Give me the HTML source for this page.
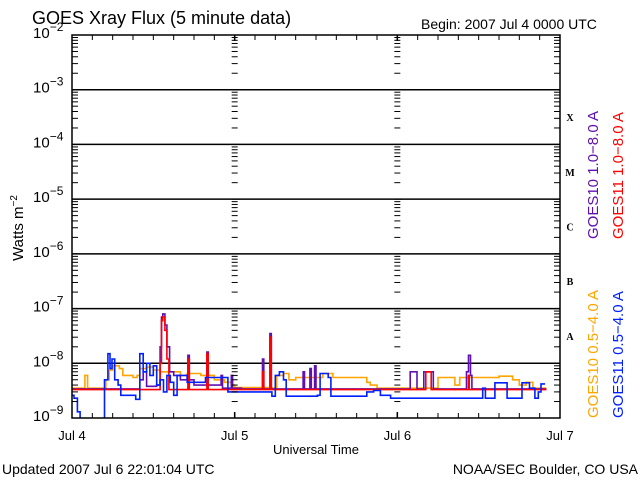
<!DOCTYPE html>
<html><head><meta charset="utf-8"><style>
html,body{margin:0;padding:0;background:#fff;}
svg{display:block;font-family:"Liberation Sans",sans-serif;}
</style></head><body>
<svg id="chart" width="640" height="480" viewBox="0 0 640 480" xmlns="http://www.w3.org/2000/svg">
<rect x="0" y="0" width="640" height="480" fill="#fff"/>
<text x="32" y="24" font-size="18">GOES Xray Flux (5 minute data)</text>
<text x="421" y="29" font-size="14">Begin:  2007 Jul 4 0000 UTC</text>
<text transform="translate(23,228) rotate(-90)" text-anchor="middle" font-size="15">Watts m<tspan dy="-6" font-size="10">−2</tspan></text>
<text x="316" y="454" text-anchor="middle" font-size="13">Universal Time</text>
<text x="2" y="474" font-size="14">Updated 2007 Jul  6 22:01:04 UTC</text>
<text x="638" y="474" text-anchor="end" font-size="14">NOAA/SEC Boulder, CO USA</text>
<g id="grid"></g>
<g id="series"></g>
<g id="axes"></g>
<g id="legend">
<text transform="translate(598,239) rotate(-90)" fill="#6010b0" font-size="15">GOES10 1.0−8.0 A</text>
<text transform="translate(623,239) rotate(-90)" fill="#ff0000" font-size="15">GOES11 1.0−8.0 A</text>
<text transform="translate(598,418) rotate(-90)" fill="#ffa500" font-size="15">GOES10 0.5−4.0 A</text>
<text transform="translate(623,418) rotate(-90)" fill="#0020ff" font-size="15">GOES11 0.5−4.0 A</text>
</g>
</svg>
<script>
const dayLabels = ["Jul 4","Jul 5","Jul 6","Jul 7"];
const decadeExponents = [-9,-8,-7,-6,-5,-4,-3,-2];
const flareClasses = ["A","B","C","M","X"];
const flareClassExps = [-7.5,-6.5,-5.5,-4.5,-3.5];

const blueTimes = [0,0.3,0.8,1.2,4.6,4.8,5.3,5.6,5.9,6.3,6.8,7.2,9.2,9.4,9.8,10,10.5,11,11.5,12,12.5,13,13.5,14,14.5,15,15.5,16.7,17,19.5,19.7,22.6,23,29.5,30,30.6,31.2,31.6,36.2,36.6,37.8,38.2,42.5,43.5,44.5,45.5,47,53,60.3,60.6,61,62.2,62.4,63.9,64.2,66,66.4,67.5,68.3,68.8,69.2,69.8];
const blueFlux = [2.6e-9,2.3e-9,1.3e-9,7e-10,7e-10,5e-9,1.5e-8,8e-9,1.2e-8,5e-9,4e-9,2.6e-9,2.6e-9,2.2e-9,2.2e-9,1.5e-8,7e-9,1e-8,6e-9,9e-9,4e-9,5e-9,3e-9,6e-9,4.5e-9,2.6e-9,6e-9,6e-9,4.5e-9,4.5e-9,5.5e-9,5.5e-9,3e-9,2.5e-9,6e-9,7e-9,5e-9,2.5e-9,2.6e-9,6.5e-9,5.5e-9,2.5e-9,2.5e-9,3e-9,3.2e-9,2.6e-9,2.3e-9,2.3e-9,2.3e-9,3.5e-9,2.3e-9,2.3e-9,4.4e-9,4.4e-9,2.3e-9,2.3e-9,4.4e-9,3.5e-9,2.3e-9,3e-9,4.2e-9,4.2e-9];

const orangeTimes = [0,1.8,1.9,2.2,2.3,4.6,5,5.5,6,7,7.5,9,9.6,10,11,12,13,15,16,17,19,21,22.5,23.5,24,29.5,30.2,31.2,32,33,37,38,38.5,42.5,43.5,44,45,47,48,53.8,54,56,56.5,57.2,62,63,64,65,66,67,68,70];
const orangeFlux = [3.5e-9,3.5e-9,6e-9,6e-9,3.5e-9,3.5e-9,5e-9,7.5e-9,9e-9,8e-9,6e-9,5.5e-9,6e-9,8e-9,8.5e-9,7.5e-9,7e-9,7e-9,6e-9,6.5e-9,6e-9,5e-9,4.5e-9,4e-9,3.6e-9,3.5e-9,6e-9,6.5e-9,5e-9,5.5e-9,6.5e-9,6.5e-9,5.5e-9,5.5e-9,4.5e-9,4e-9,3.5e-9,3.5e-9,3.5e-9,3.5e-9,5.5e-9,5.5e-9,4e-9,5.5e-9,5.5e-9,5.8e-9,5.8e-9,5e-9,4e-9,4.5e-9,3.5e-9,3.5e-9];

const purpleTimes = [0,9.5,10,10.5,11,12.5,12.8,13,13.2,13.4,13.7,14,14.4,15,16,17,17.1,17.3,18,19.8,19.9,20.1,21,22,22.2,23.5,23.7,25,28,28.1,28.3,29.1,29.2,29.4,34,34.1,34.3,35,35.1,35.3,35.8,36,48,49.8,49.9,50.8,50.9,51.8,51.9,53.2,53.3,58,58.2,58.5,58.8,59,70];
const purpleFlux = [3.4e-9,3.4e-9,5e-9,7e-9,3.8e-9,4e-9,4e-9,2e-8,7e-8,8e-8,5e-8,2e-8,7e-9,6e-9,5e-9,6e-9,1.4e-8,5e-9,4e-9,4e-9,1.6e-8,4e-9,4e-9,6e-9,3.5e-9,6e-9,3.5e-9,3.4e-9,3.4e-9,1.2e-8,3.4e-9,3.4e-9,3.5e-8,3.4e-9,3.4e-9,7e-9,3.4e-9,3.4e-9,8e-9,3.4e-9,9e-9,3.4e-9,3.4e-9,3.4e-9,7e-9,7e-9,3.4e-9,3.4e-9,7e-9,7e-9,3.4e-9,3.4e-9,7e-9,1.4e-8,6e-9,3.4e-9,3.4e-9];

const redTimes = [0,12.8,13,13.2,13.4,13.7,14,14.3,17,17.1,17.3,19.8,19.9,20.1,28,28.1,28.3,29.1,29.2,29.4,52,52.2,52.8,53,58.4,58.5,58.6,70];
const redFlux = [3.3e-9,3.3e-9,1e-8,6e-8,7e-8,4e-8,1.2e-8,3.3e-9,3.3e-9,1.2e-8,3.3e-9,3.3e-9,1.5e-8,3.3e-9,3.3e-9,7e-9,3.3e-9,3.3e-9,3e-8,3.3e-9,3.3e-9,7e-9,7e-9,3.3e-9,3.3e-9,6e-9,3.3e-9,3.3e-9];

const X0=72, X1=560, Y0=35, Y1=418;
const xScale = h => X0 + h*(X1-X0)/72;
const yScale = v => { const l = Math.log10(Math.max(v,1e-10)); return Y0 + (-2 - l)*(Y1-Y0)/7; };
const NS="http://www.w3.org/2000/svg";
function mk(tag, attrs, parent){ const e=document.createElementNS(NS,tag); for(const k in attrs) e.setAttribute(k,attrs[k]); parent.appendChild(e); return e; }
const grid=document.getElementById('grid'), axes=document.getElementById('axes'), series=document.getElementById('series');

for(let i=1;i<decadeExponents.length-1;i++){
  const y=yScale(Math.pow(10,decadeExponents[i]));
  const l=mk('line',{x1:X0,x2:X1,y1:y,y2:y,stroke:'#000','stroke-width':1.5},grid);
  
  
}
const tickXs=[[X0,6],[X1,-6],[xScale(24)-3,6],[xScale(48)-3,6]];
for(let d=0; d<decadeExponents.length-1; d++){
  for(let m=1;m<=9;m++){
    const v=m*Math.pow(10,decadeExponents[d]);
    const y=yScale(v);
    tickXs.forEach(([x,w])=>{
      const t=mk('line',{x1:x,x2:x+(m===1?w*1.3:w),y1:y,y2:y,stroke:'#000','stroke-width':1},axes);
      
      
    });
  }
}
[24,48].forEach(h=>{
  const x=xScale(h);
  const l=mk('line',{x1:x,x2:x,y1:Y1-6,y2:Y1,stroke:'#000','stroke-width':1.5},axes);
  
  
  const l2=mk('line',{x1:x,x2:x,y1:Y0,y2:Y0+6,stroke:'#000','stroke-width':1.5},axes);
  
  
});
for(let h=3;h<72;h+=3){
  const x=xScale(h);
  const a=mk('line',{x1:x,x2:x,y1:Y1,y2:Y1-5,stroke:'#000'},axes);
  
  
  const b=mk('line',{x1:x,x2:x,y1:Y0,y2:Y0+5,stroke:'#000'},axes);
  
  
}
const fr=mk('rect',{x:X0,y:Y0,width:X1-X0,height:Y1-Y0,fill:'none',stroke:'#000','stroke-width':1.5},axes);


decadeExponents.forEach(e=>{
  const y=yScale(Math.pow(10,e));
  const t=mk('text',{x:33,y:y+3,'font-size':15},axes);
  
  
  t.textContent='10';
  const s=mk('tspan',{dy:-7,'font-size':12},t);
  s.textContent='−'+(-e);
});
dayLabels.forEach((d,i)=>{
  const t=mk('text',{x:xScale(i*24),y:440,'text-anchor':'middle','font-size':13},axes);
  
  
  t.textContent=d;
});
flareClasses.forEach((c,i)=>{
  const t=mk('text',{x:570,y:yScale(Math.pow(10,flareClassExps[i]))+4,'text-anchor':'middle','font-size':10,'font-weight':'bold','font-family':'Liberation Serif, serif'},axes);
  
  
  t.textContent=c;
});
function draw(times, flux, color, name){
  let d='';
  for(let i=0;i<times.length;i++){
    const x=xScale(times[i]).toFixed(1), y=Math.min(yScale(flux[i]),Y1+2).toFixed(1);
    d += i ? ('H'+x+'V'+y) : ('M'+x+','+y);
  }
  const p=mk('path',{d:d,fill:'none',stroke:color,'stroke-width':1.6,'stroke-linejoin':'miter'},series);
  
  
}
const clip=mk('clipPath',{id:'pc'},document.getElementById('chart'));
mk('rect',{x:X0,y:Y0,width:X1-X0,height:Y1-Y0},clip);
series.setAttribute('clip-path','url(#pc)');
draw(orangeTimes,orangeFlux,'#ffa500','series-goes10-short');
draw(purpleTimes,purpleFlux,'#6010b0','series-goes10-long');
draw(redTimes,redFlux,'#ff0000','series-goes11-long');
draw(blueTimes,blueFlux,'#0020ff','series-goes11-short');
</script>
</body></html>
